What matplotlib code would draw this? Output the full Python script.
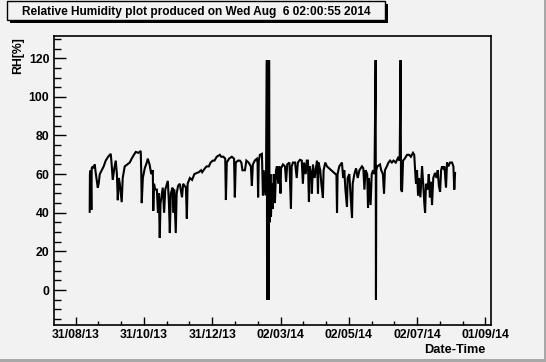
import datetime
import matplotlib
matplotlib.use('Agg')
import matplotlib.pyplot as plt
import matplotlib.dates as mdates
from matplotlib.patches import Rectangle
from matplotlib.ticker import MultipleLocator, FixedLocator

# days since 31/08/13 and relative humidity [%]
start = datetime.datetime(2013, 8, 31)
day = [12.5, 12.7, 13.4, 14.0, 14.3, 15.2, 16.1, 17.0, 17.8, 18.8, 19.7, 20.5, 21.5, 23.3, 25.0,
       26.8, 29.0, 31.3, 32.0, 33.1, 34.5, 35.8, 36.8, 37.6, 38.5, 39.4, 41.1, 42.0, 43.8, 46.0,
       48.3, 50.0, 52.0, 53.7, 56.0, 58.1, 58.6, 59.0, 60.0, 61.7, 63.5, 64.4, 66.0, 67.5, 68.9,
       69.3, 70.0, 71.0, 72.5, 73.5, 74.3, 75.1, 75.8, 77.0, 77.8, 79.0, 80.0, 82.3, 83.3, 84.1,
       85.0, 86.5, 87.5, 88.0, 89.4, 90.2, 91.5, 93.0, 95.0, 96.0, 98.5, 99.3, 100.0, 102.0, 104.0,
       106.0, 108.2, 110.0, 112.0, 113.0, 115.4, 117.0, 119.0, 120.5, 122.5, 124.0, 126.0, 128.8, 130.0, 132.0,
       133.6, 134.2, 135.0, 137.0, 139.5, 141.5, 142.2, 143.0, 145.0, 146.7, 148.0, 149.0, 151.2, 152.5, 154.5,
       156.5, 157.4, 158.3, 160.0, 161.9, 162.5, 163.0, 163.6, 164.6, 166.4, 167.3, 168.0, 169.5, 170.2, 170.8,
       171.0, 171.3, 171.6, 172.0, 172.4, 172.8, 173.2, 173.5, 174.0, 174.5, 175.3, 176.0, 177.0, 178.0, 179.0,
       179.8, 181.0, 182.0, 183.0, 183.5, 185.2, 187.0, 188.0, 189.0, 191.0, 192.3, 193.0, 194.1, 196.0, 197.5,
       198.5, 200.4, 202.0, 203.0, 204.0, 205.5, 206.5, 207.5, 208.4, 209.0, 210.5, 211.0, 212.0, 213.5, 215.6,
       216.5, 217.0, 218.5, 219.5, 220.9, 221.5, 223.0, 224.5, 233.0, 233.5, 234.0, 235.5, 237.9, 239.0, 240.0,
       241.0, 242.4, 243.0, 244.5, 245.5, 246.9, 247.5, 249.0, 250.5, 252.0, 253.5, 255.8, 257.0, 258.0, 259.0,
       260.5, 261.2, 262.0, 263.5, 264.5, 265.7, 267.0, 268.0, 268.3, 268.6, 269.5, 271.9, 273.0, 274.5, 275.5,
       276.3, 278.0, 279.5, 280.9, 282.5, 284.0, 286.0, 288.0, 289.5, 290.3, 290.7, 291.6, 292.5, 294.0, 296.1,
       298.0, 299.5, 301.4, 302.5, 303.5, 304.1, 305.0, 305.9, 306.8, 308.0, 309.5, 310.5, 311.5, 312.2, 313.0,
       314.5, 315.5, 316.5, 317.5, 318.4, 319.5, 321.1, 322.5, 323.5, 324.5, 325.6, 326.5, 327.4, 328.5, 329.5,
       330.9, 331.8, 333.0, 334.5, 336.3, 337.5, 338.3, 339.0]
rh = [40.5, 60, 62, 41.5, 63, 64, 63, 65, 61, 57, 53, 55, 60, 62, 64,
      67, 69, 70.5, 66, 57, 63, 67, 60, 46.5, 58, 55, 45.5, 58, 64, 65,
      66, 68, 70, 71.5, 71, 72, 60, 45, 58, 63, 66, 68, 65, 60, 62,
      41, 55, 52, 52, 40, 50, 27, 45, 50, 53, 40, 52, 56.5, 45, 29.5,
      50, 53, 40, 52, 29.5, 50, 54, 55, 48, 55, 53, 37, 55, 58, 57,
      60, 60.6, 61, 62, 61, 63, 64, 64, 66, 67, 67, 69, 70, 69, 69,
      68, 46.6, 66, 68, 69, 68, 48, 66, 67, 67, 66, 62, 62, 67, 66,
      64, 54, 65, 67, 68, 66, 48, 67, 70, 70.5, 49, 62, 49, 62, 119,
      -5, 119, -5, 119, -5, 119, 35, 40, 60, 38, 55, 42, 60, 45, 62,
      64, 55, 64, 50, 63, 65, 64, 56, 65, 66, 42, 64, 66, 66, 58,
      66, 67.4, 67, 55, 66, 60, 67, 67, 45.6, 64, 60, 50, 65, 58, 67,
      50, 66, 62, 55, 47.7, 62, 66, 64, 59.6, 40, 60, 64, 66, 58, 62,
      52, 43, 58, 60, 50, 37.3, 55, 60, 63, 58, 62, 64, 63, 52, 62,
      60, 42.5, 58, 44, 60, 62, 60, 119, -5, 62, 64, 65, 62, 60, 50,
      62, 64, 66, 67, 66, 67, 66, 68.4, 67, 119, 52, 50.8, 67, 68, 70,
      70, 69, 71, 70, 60, 55, 62, 49, 58, 48, 64, 55, 45, 40, 55,
      52, 60, 48, 56, 44, 58, 60.6, 58, 62, 54, 50.8, 62, 64, 63, 64,
      53, 66, 64, 66, 66, 64, 52, 60.6]

tick_days = [0, 61, 122, 183, 244, 305, 366]
bg = '#f2f2f2'
W, H = 546, 362

plt.rcParams['font.family'] = ['Liberation Sans', 'DejaVu Sans']
plt.rcParams['font.weight'] = 'bold'

fig = plt.figure(figsize=(W / 100, H / 100), dpi=100, facecolor=bg)
ax = fig.add_axes([54 / W, 1 - 325 / H, (491 - 54) / W, (325 - 36) / H])
ax.set_facecolor(bg)

t0 = mdates.date2num(start)
x = [t0 + d for d in day]
ax.plot(x, rh, color='black', lw=1.5, solid_joinstyle='miter')

ax.set_xlim(t0 - 19.4, t0 + 366 + 5.1)
ax.set_ylim(-18.1, 131.5)

ax.xaxis.set_major_locator(FixedLocator([t0 + d for d in tick_days]))
ax.xaxis.set_minor_locator(FixedLocator([t0 + d + k * 61 / 3 for d in [-61] + tick_days for k in (1, 2)]))
ax.xaxis.set_major_formatter(mdates.DateFormatter('%d/%m/%y'))
ax.yaxis.set_major_locator(MultipleLocator(20))
ax.yaxis.set_minor_locator(MultipleLocator(5))

ax.tick_params(axis='both', which='both', direction='in', color='black', width=1,
               labelsize=8.8, top=False, right=False)
ax.tick_params(axis='y', which='major', length=8.7, pad=3.4)
ax.tick_params(axis='y', which='minor', length=4.7)
ax.tick_params(axis='x', which='major', length=5.8, pad=3.2)
ax.tick_params(axis='x', which='minor', length=2.9)
for lab in ax.get_xticklabels() + ax.get_yticklabels():
    lab.set_fontweight('bold')
for s in ax.spines.values():
    s.set_linewidth(1.2)

fig.text(18.5 / W, 1 - 37 / H, 'RH[%]', rotation=90, ha='center', va='top',
         fontsize=8.8, fontweight='bold')
fig.text(486 / W, 1 - 350 / H, 'Date-Time', ha='right', va='center',
         fontsize=9.2, fontweight='bold')

# title box with shadow
fig.patches.append(Rectangle((10 / W, 1 - 23 / H), 378 / W, 19 / H, transform=fig.transFigure,
                             facecolor='black', edgecolor='none'))
fig.patches.append(Rectangle((7 / W, 1 - 20 / H), 378 / W, 19 / H, transform=fig.transFigure,
                             facecolor=bg, edgecolor='black', lw=1))
fig.text(196 / W, 1 - 12 / H, 'Relative Humidity plot produced on Wed Aug  6 02:00:55 2014',
         ha='center', va='center', fontsize=8.6, fontweight='bold')

# canvas bevel
fig.patches.append(Rectangle((544 / W, 0), 2 / W, 1, transform=fig.transFigure,
                             facecolor='#a8a8a8', edgecolor='none'))
fig.patches.append(Rectangle((0, 0), 1, 3 / H, transform=fig.transFigure,
                             facecolor='#a8a8a8', edgecolor='none'))

fig.savefig('out.png', dpi=100, facecolor=bg)
